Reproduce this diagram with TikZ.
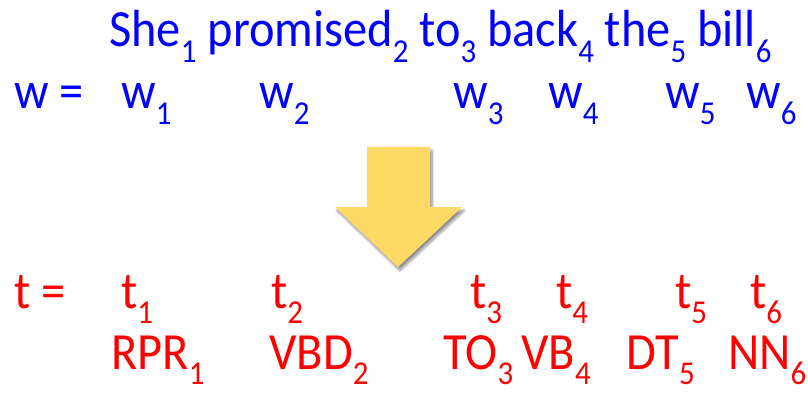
\documentclass[tikz,border=0pt]{standalone}
\usepackage{fontspec}
\setmainfont{Carlito}
\usetikzlibrary{shadows.blur}

\definecolor{wordblue}{RGB}{0,0,255}
\definecolor{tagred}{RGB}{255,0,0}
\definecolor{arrowgold}{RGB}{255,217,102}

% index written low and small after a word
\newcommand\sub[1]{\raisebox{-0.29em}{\fontsize{22}{22}\selectfont #1}}
% slide text is a bit taller than the font
\newcommand\tall[1]{\scalebox{1}[1.08]{#1}}

\tikzset{
  word/.style={anchor=base west, inner sep=0pt, font=\fontsize{34.4}{34}\selectfont},
  wrow/.style={word, text=wordblue},
  trow/.style={word, text=tagred}
}

\begin{document}
\begin{tikzpicture}[x=0.025cm, y=-0.025cm]
			%%%%% START %%%%%
			\useasboundingbox (0, 0) rectangle (808, 393);

			% sentence
			\node[wrow] (sent) at (109, 47) {\tall{She\sub1 promised\sub2 to\sub3 back\sub4 the\sub5 bill\sub6}};

			% words
			\node[wrow] (weq) at (14, 109) {\tall{w =}};
			\node[wrow] (w1) at (121, 109) {\tall{w\sub1}};
			\node[wrow] (w2) at (259, 109) {\tall{w\sub2}};
			\node[wrow] (w3) at (453, 109) {\tall{w\sub3}};
			\node[wrow] (w4) at (548, 109) {\tall{w\sub4}};
			\node[wrow] (w5) at (665, 109) {\tall{w\sub5}};
			\node[wrow] (w6) at (746, 109) {\tall{w\sub6}};

			% big arrow down
			\fill[arrowgold, blur shadow={shadow xshift=1.5pt, shadow yshift=-2.5pt, shadow opacity=45, shadow blur steps=8}]
				(367, 147) -- (430, 147) -- (430, 207) -- (462, 207) -- (398, 267) -- (335, 207) -- (367, 207) -- cycle;

			% tags
			\node[trow] (teq) at (14, 308) {\tall{t =}};
			\node[trow] (t1) at (121, 308) {\tall{t\sub1}};
			\node[trow] (t2) at (271, 308) {\tall{t\sub2}};
			\node[trow] (t3) at (470, 308) {\tall{t\sub3}};
			\node[trow] (t4) at (556, 308) {\tall{t\sub4}};
			\node[trow] (t5) at (675, 308) {\tall{t\sub5}};
			\node[trow] (t6) at (750, 308) {\tall{t\sub6}};

			\node[trow] (rpr) at (111, 369) {\tall{RPR\sub1}};
			\node[trow] (vbd) at (269, 369) {\tall{VBD\sub2}};
			\node[trow] (to) at (443, 369) {\tall{TO\sub3}};
			\node[trow] (vb) at (521, 369) {\tall{VB\sub4}};
			\node[trow] (dt) at (626, 369) {\tall{DT\sub5}};
			\node[trow] (nn) at (728, 369) {\tall{NN\sub6}};
			%%%%% END %%%%%
\end{tikzpicture}
\end{document}
